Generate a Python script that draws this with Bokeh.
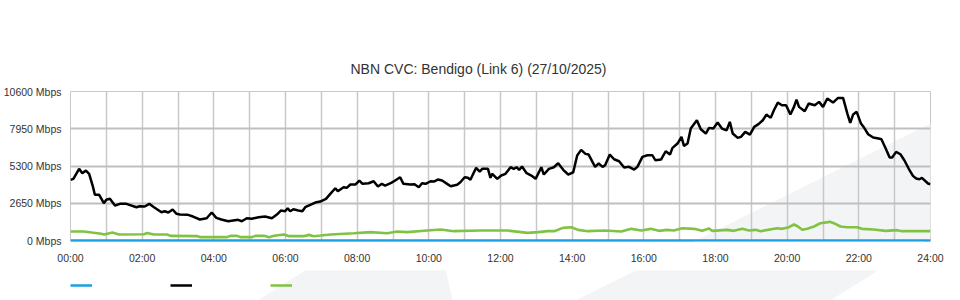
from bokeh.plotting import figure
from bokeh.layouts import column
from bokeh.models import Range1d, FixedTicker, Legend, LegendItem, PolyAnnotation
from bokeh.embed import file_html
from bokeh.resources import INLINE

title_text = "NBN CVC: Bendigo (Link 6) (27/10/2025)"

x_ticks = list(range(0, 25, 2))
x_tick_labels = ["%02d:00" % t for t in x_ticks]
y_ticks = [0, 2650, 5300, 7950, 10600]
y_tick_labels = ["%d Mbps" % t for t in y_ticks]

# hours of day / Mbps
black_hours = [0.00,0.08,0.24,0.33,0.43,0.52,0.63,0.68,0.80,0.93,
 1.00,1.10,1.24,1.38,1.56,1.84,1.93,2.07,2.20,2.33,
 2.54,2.63,2.73,2.85,2.96,3.05,3.28,3.42,3.61,3.80,
 3.94,4.07,4.21,4.40,4.54,4.68,4.78,4.92,5.06,5.25,
 5.43,5.62,5.76,5.87,5.99,6.06,6.13,6.22,6.36,6.47,
 6.55,6.69,6.83,6.97,7.13,7.25,7.39,7.46,7.62,7.71,
 7.81,7.95,8.06,8.15,8.32,8.46,8.58,8.69,8.78,8.95,
 9.06,9.20,9.29,9.48,9.60,9.72,9.81,9.91,10.05,10.14,
 10.25,10.37,10.51,10.61,10.79,10.88,11.00,11.09,11.16,11.26,
 11.32,11.42,11.49,11.65,11.72,11.77,11.91,12.02,12.14,12.28,
 12.37,12.45,12.52,12.60,12.73,12.86,12.98,13.14,13.21,13.35,
 13.49,13.61,13.75,13.89,14.03,14.14,14.25,14.37,14.46,14.64,
 14.74,14.85,14.92,15.05,15.17,15.31,15.45,15.59,15.73,15.82,
 15.96,16.10,16.24,16.32,16.48,16.61,16.73,16.80,16.94,17.05,
 17.12,17.22,17.31,17.48,17.59,17.73,17.82,17.94,18.06,18.18,
 18.31,18.40,18.48,18.62,18.71,18.83,18.96,19.08,19.20,19.32,
 19.42,19.54,19.63,19.74,19.85,19.97,20.09,20.19,20.26,20.33,
 20.49,20.60,20.77,20.89,21.00,21.12,21.28,21.42,21.56,21.68,
 21.76,21.84,21.94,22.06,22.15,22.26,22.40,22.55,22.63,22.75,
 22.86,22.93,23.04,23.16,23.27,23.39,23.51,23.60,23.69,23.76,
 23.93,24.00]
black_mbps = [4316,4387,5098,4785,4977,4742,3790,3249,3249,2652,
 2894,2965,2489,2609,2609,2368,2439,2417,2609,2368,
 2012,2083,1991,2204,1898,1849,1827,1706,1493,1586,
 1991,1614,1493,1372,1422,1472,1372,1586,1543,1657,
 1706,1586,1849,2133,2083,2297,2083,2226,2133,2083,
 2368,2538,2702,2773,2965,3320,3719,3505,3790,3747,
 3982,3982,4266,4031,4074,4216,3839,4031,3910,4103,
 4266,4501,4031,3982,4000,3790,4074,4031,4216,4195,
 4337,4266,4031,3861,3960,4145,4501,4458,4316,4856,
 5169,4906,5098,5098,4458,4742,4387,4622,4742,5212,
 5098,5212,5027,5261,4785,4622,4387,5212,4693,5098,
 5212,5496,5027,4693,4856,6044,6449,6164,6115,5240,
 5475,5240,5354,6115,5780,5638,5190,5240,5048,5240,
 5951,6065,6065,5709,5759,6349,6115,6591,6897,7373,
 6733,6897,7963,8553,7913,7608,8013,7963,8390,7963,
 7843,8440,7608,7302,7373,7729,7537,8084,8280,8553,
 8959,8724,9264,9812,9620,9620,8959,9506,10025,9506,
 9193,9741,9620,9862,9506,10096,9812,10146,10146,9030,
 8368,8959,9151,8319,8013,7558,7323,7252,7202,6541,
 5901,5901,6307,6136,5709,5119,4600,4408,4359,4458,
 4053,4003]

green_hours = [0,0.37,0.86,0.94,1.17,1.35,2.05,2.14,2.33,2.70,2.79,3.54,3.63,4.37,4.46,4.65,
 4.74,5.07,5.16,5.40,5.54,5.68,5.96,6.10,6.51,6.65,6.79,6.98,7.26,7.91,8.37,8.84,9.12,9.40,
 9.95,10.33,10.70,11.44,12.19,12.76,13.04,13.32,13.50,13.74,13.98,14.16,14.44,14.90,15.37,
 15.65,15.93,16.19,16.42,16.65,16.84,17.07,17.40,17.63,17.82,17.91,18.33,18.51,18.75,18.93,
 19.12,19.26,19.72,19.86,20.05,20.19,20.30,20.42,20.56,20.75,20.93,21.19,21.30,21.49,21.67,
 21.95,22.09,22.42,22.74,23.07,23.21,24.00]
green_mbps = [640,640,476,427,569,427,450,530,427,427,332,308,237,237,332,332,
 237,237,332,332,237,332,427,308,308,400,308,356,427,521,593,521,640,593,
 711,782,664,711,711,545,593,664,664,900,948,758,664,711,640,
 829,711,829,687,758,711,877,829,687,853,687,758,687,829,711,
 758,664,877,829,948,1138,995,758,829,995,1232,1327,1232,995,948,
 948,829,782,687,735,664,664]

blue_hours = [0, 24]
blue_mbps = [0, 0]

series_colors = ["#1a9fe0", "#000000", "#80c342"]   # blue, black, green (legend order)

FONT = "Liberation Sans"
DECO = "#f3f4f6"

# ---------------- main chart ----------------
p = figure(width=960, height=270, x_range=Range1d(0, 24), y_range=Range1d(-71, 10600),
           output_backend="svg", toolbar_location=None,
           min_border_left=70, min_border_right=30, min_border_top=91, min_border_bottom=29,
           background_fill_color="white", border_fill_color="white")

p.title.text = title_text
p.title.align = "left"
p.title.offset = 280
p.title.standoff = 30
p.title.text_font = FONT
p.title.text_font_size = "14px"
p.title.text_font_style = "normal"
p.title.text_color = "#333333"

p.outline_line_color = "#c8c8c8"
p.outline_line_width = 1

for ax in (p.xaxis[0], p.yaxis[0]):
    ax.axis_line_color = None
    ax.major_tick_line_color = None
    ax.minor_tick_line_color = None
    ax.major_tick_out = 0
    ax.major_tick_in = 0
    ax.major_label_text_font = FONT
    ax.major_label_text_font_size = "10.5px"
    ax.major_label_text_color = "#333333"
p.xaxis[0].major_label_standoff = 10
p.yaxis[0].major_label_standoff = 9

p.xaxis[0].ticker = FixedTicker(ticks=x_ticks)
p.xaxis[0].major_label_overrides = dict(zip(x_ticks, x_tick_labels))
p.yaxis[0].ticker = FixedTicker(ticks=y_ticks)
p.yaxis[0].major_label_overrides = dict(zip(y_ticks, y_tick_labels))

p.xgrid[0].ticker = FixedTicker(ticks=list(range(0, 25)))
p.xgrid[0].grid_line_color = "#c8c8c8"
p.xgrid[0].grid_line_width = 1.5
p.ygrid[0].ticker = FixedTicker(ticks=[2650, 5300, 7950])
p.ygrid[0].grid_line_color = "#bfbfbf"
p.ygrid[0].grid_line_width = 2

# faint page decoration (only its part inside the plot frame shows)
p.add_layout(PolyAnnotation(xs=[575, 960, 960, 830], ys=[300, 108, 218, 300],
                            xs_units="canvas", ys_units="canvas",
                            fill_color=DECO, fill_alpha=1, line_color=None, level="image"))

p.line(blue_hours, blue_mbps, line_color=series_colors[0], line_width=2.5)
p.line(green_hours, green_mbps, line_color=series_colors[2], line_width=2.6)
p.line(black_hours, black_mbps, line_color=series_colors[1], line_width=2.5)

# ---------------- legend strip ----------------
lf = figure(width=960, height=30, x_range=Range1d(0, 960), y_range=Range1d(30, 0),
            output_backend="svg", toolbar_location=None, min_border=0,
            x_axis_type=None, y_axis_type=None,
            background_fill_color="white", border_fill_color="white", outline_line_color=None)
lf.grid.visible = False
lf.add_layout(PolyAnnotation(xs=[575, 960, 960, 830], ys=[30, -162, -52, 30],
                             xs_units="canvas", ys_units="canvas",
                             fill_color=DECO, fill_alpha=1, line_color=None, level="image"))
lf.add_layout(PolyAnnotation(xs=[257, 330, 445, 452], ys=[30, -16, -2, 30],
                             xs_units="canvas", ys_units="canvas",
                             fill_color=DECO, fill_alpha=1, line_color=None, level="image"))

nan = float("nan")
legend_renderers = [lf.line([nan], [nan], line_color=c, line_width=2.5) for c in series_colors]
legend = Legend(items=[LegendItem(label=" ", renderers=[r]) for r in legend_renderers],
                orientation="horizontal", location=(0, 10),
                glyph_width=22, glyph_height=10, label_width=78, label_height=10,
                label_standoff=0, spacing=0, padding=0, margin=0,
                border_line_color=None, background_fill_alpha=0,
                label_text_font_size="8px")
lf.add_layout(legend)

layout = column(p, lf, spacing=0)
open("out.html", "w").write(file_html(layout, INLINE))
